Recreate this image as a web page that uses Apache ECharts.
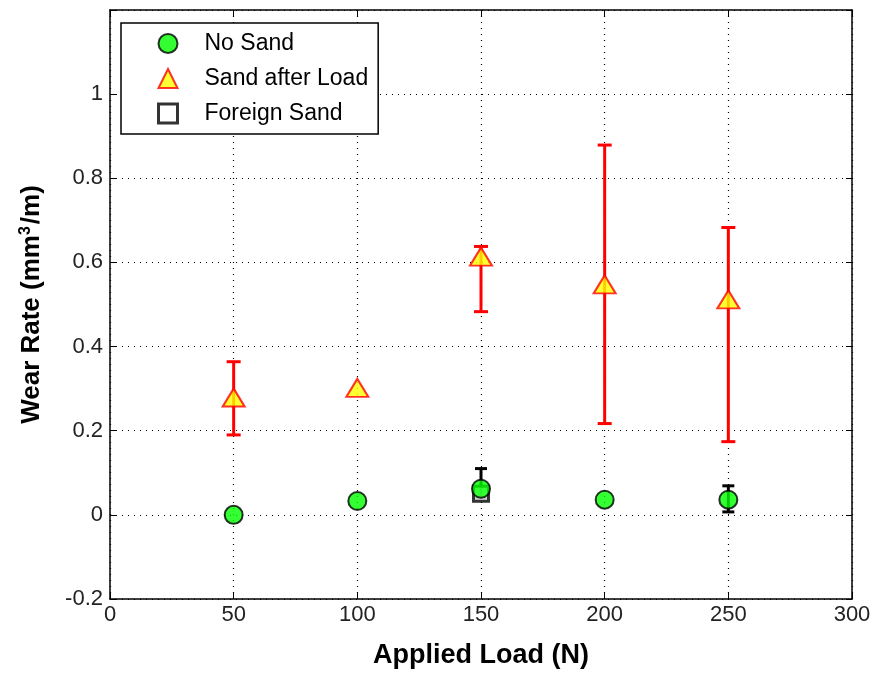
<!DOCTYPE html>
<html>
<head>
<meta charset="utf-8">
<script src="https://cdn.jsdelivr.net/npm/echarts@6/dist/echarts.min.js"></script>
<style>
  html, body { margin: 0; padding: 0; background: #fff; }
  #chart { width: 880px; height: 675px; }
</style>
</head>
<body>
<div id="chart"></div>
<script>
// loads (N)
const loads = [50, 100, 150, 200, 250]

// wear rates (mm3/m)
const noSand = [0.0, 0.033, 0.062, 0.036, 0.036]
const sandAfterLoad = [0.279, 0.302, 0.614, 0.548, 0.512]
const foreignSandLoads = [150]
const foreignSand = [0.05]

// error bar ends [load, low, high]
const noSandErr = [
    [150, 0.04, 0.110],
    [250, 0.007, 0.069]
]
const sandAfterLoadErr = [
    [50, 0.190, 0.364],
    [150, 0.483, 0.638],
    [200, 0.217, 0.879],
    [250, 0.174, 0.683]
]

const font = "'Liberation Sans', Arial, sans-serif"

function pairs(xs, ys) {
    return xs.map((x, i) => [x, ys[i]])
}

// vertical bar with caps at both ends
function errorBar(color, capHalf) {
    return function (params, api) {
        const x = api.value(0)
        const lo = api.coord([x, api.value(1)])
        const hi = api.coord([x, api.value(2)])
        const style = { stroke: color, lineWidth: 3 }
        return {
            type: 'group',
            children: [
                { type: 'line', shape: { x1: lo[0], y1: lo[1], x2: hi[0], y2: hi[1] }, style: style },
                { type: 'line', shape: { x1: hi[0] - capHalf, y1: hi[1], x2: hi[0] + capHalf, y2: hi[1] }, style: style },
                { type: 'line', shape: { x1: lo[0] - capHalf, y1: lo[1], x2: lo[0] + capHalf, y2: lo[1] }, style: style }
            ]
        }
    }
}

const chart = echarts.init(document.getElementById('chart'))

const dotted = { show: true, lineStyle: { color: '#000', type: [1, 5], width: 1.2 } }
const frameLine = { onZero: false, lineStyle: { color: '#000', width: 1.5 } }
const inTick = { inside: true, length: 6, lineStyle: { color: '#000' } }

const options = {
    backgroundColor: '#fff',
    animation: false,
    grid: { left: 110, right: 28, top: 10, bottom: 76 },
    legend: {
        orient: 'vertical',
        left: 121,
        top: 23,
        backgroundColor: '#fff',
        borderColor: '#000',
        borderWidth: 1.5,
        padding: [9, 10, 9, 36],
        itemWidth: 19,
        itemHeight: 19,
        itemGap: 12,
        textStyle: { fontFamily: font, fontSize: 23, color: '#000', padding: [0, 0, 0, 22] },
        data: [
            { name: 'No Sand', itemStyle: { borderWidth: 2 } },
            { name: 'Sand after Load', itemStyle: { borderWidth: 2 } },
            { name: 'Foreign Sand', itemStyle: { borderWidth: 3 } }
        ]
    },
    xAxis: [{
        type: 'value',
        min: 0, max: 300, interval: 50,
        name: 'Applied Load (N)',
        nameLocation: 'middle',
        nameGap: 43,
        nameTextStyle: { fontFamily: font, fontSize: 27, fontWeight: 'bold', color: '#000' },
        axisLine: frameLine,
        axisTick: inTick,
        axisLabel: { fontFamily: font, fontSize: 22, color: '#222', margin: 5 },
        splitLine: dotted
    }, {
        type: 'value',
        position: 'top',
        min: 0, max: 300, interval: 50,
        axisLine: frameLine,
        axisTick: inTick,
        axisLabel: { show: false },
        splitLine: { show: false }
    }],
    yAxis: [{
        type: 'value',
        min: -0.2, max: 1.2, interval: 0.2,
        name: 'Wear Rate (mm{sup|3}/m)',
        nameLocation: 'middle',
        nameGap: 64,
        nameTextStyle: {
            fontFamily: font, fontSize: 26, fontWeight: 'bold', color: '#000',
            rich: { sup: { fontFamily: font, fontSize: 16, color: '#000', verticalAlign: 'top', padding: [0, 2, 12, 0] } }
        },
        axisLine: frameLine,
        axisTick: inTick,
        axisLabel: {
            fontFamily: font, fontSize: 22, color: '#222', margin: 7,
            formatter: v => (v > 1.1 ? '' : String(Math.round(v * 10) / 10))
        },
        splitLine: dotted
    }, {
        type: 'value',
        position: 'right',
        min: -0.2, max: 1.2, interval: 0.2,
        axisLine: frameLine,
        axisTick: inTick,
        axisLabel: { show: false },
        splitLine: { show: false }
    }],
    series: [
        {
            type: 'custom',
            name: 'errRed',
            renderItem: errorBar('#ff0000', 7),
            data: sandAfterLoadErr,
            z: 2
        },
        {
            type: 'custom',
            name: 'errBlack',
            renderItem: errorBar('#000', 6),
            data: noSandErr,
            z: 2
        },
        {
            type: 'scatter',
            name: 'Foreign Sand',
            symbol: 'rect',
            symbolSize: 15,
            itemStyle: { color: '#fff', borderColor: '#000', borderWidth: 3 },
            data: pairs(foreignSandLoads, foreignSand),
            z: 3
        },
        {
            type: 'scatter',
            name: 'No Sand',
            symbol: 'circle',
            symbolSize: 18,
            itemStyle: { color: '#00ff00', borderColor: '#000', borderWidth: 2 },
            data: pairs(loads, noSand),
            z: 4
        },
        {
            type: 'scatter',
            name: 'Sand after Load',
            symbol: 'triangle',
            symbolSize: [22, 18],
            itemStyle: { color: '#ffff00', borderColor: '#ff0000', borderWidth: 2 },
            data: pairs(loads, sandAfterLoad),
            z: 4
        }
    ]
}

chart.setOption(options, true)
</script>
</body>
</html>
